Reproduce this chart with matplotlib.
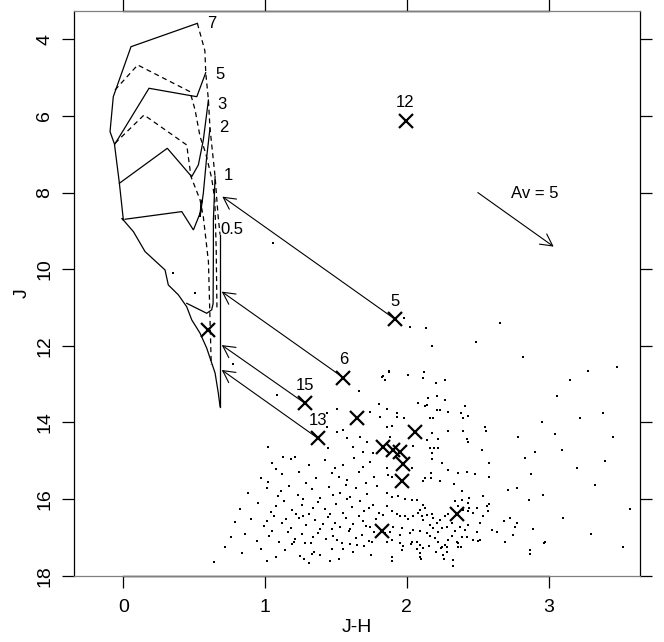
import matplotlib
matplotlib.use("Agg")
import matplotlib.pyplot as plt

plt.rcParams['font.family'] = ['Liberation Sans', 'DejaVu Sans']

# ---------------- data ----------------
x_ticks = [0, 1, 2, 3]
y_ticks = [4, 6, 8, 10, 12, 14, 16, 18]
x_lim = (-0.346, 3.646)
y_lim = (18.015, 3.254)

# labelled sources
lab_ids = ["12", "5", "6", "15", "13"]
lab_jh = [1.99, 1.916, 1.551, 1.281, 1.371]
lab_j = [6.13, 11.305, 12.83, 13.50, 14.41]

# other crosses
oth_jh = [1.646, 2.057, 0.599, 1.834, 1.904, 1.951, 1.970, 1.963, 2.351, 1.822]
oth_j = [13.89, 14.26, 11.58, 14.645, 14.715, 14.76, 15.08, 15.54, 16.39, 16.82]

# dereddening arrows: start (source) -> end (head)
arr_src = ["5", "6", "15", "13"]
arr_end_jh = [0.698, 0.694, 0.694, 0.694]
arr_end_j = [8.106, 10.585, 11.98, 12.63]

# extinction vector
av_start = (2.5, 8.0)
av_end = (3.035, 9.41)
av_text = "Av = 5"

# model curves (J-H, J): solid tracks, dashed isochrones / birthline
curve_solid = [
    ([0.522, 0.054, -0.071, -0.094, -0.063, -0.028, 0.0],
     [3.583, 4.193, 5.498, 6.41, 6.73, 7.757, 8.714]),
    ([0.581, 0.518, 0.181, -0.059],
     [4.871, 5.498, 5.278, 6.73]),
    ([0.6, 0.564, 0.529, 0.482, 0.31, -0.028],
     [5.584, 6.627, 7.279, 7.585, 6.844, 7.757]),
    ([0.611, 0.588, 0.564, 0.541, 0.553, 0.541, 0.494, 0.412, 0.012],
     [6.322, 7.063, 8.018, 8.63, 8.19, 8.54, 8.975, 8.497, 8.696]),
    ([0.647, 0.635, 0.635, 0.633, 0.623, 0.588, 0.447],
     [7.585, 8.714, 9.5, 10.9, 11.06, 11.15, 10.89]),
    ([0.682, 0.682, 0.682],
     [9.1, 10.54, 13.585]),
    ([0.0, -0.011, 0.071, 0.153, 0.294, 0.317, 0.388, 0.447, 0.482, 0.541, 0.588, 0.647, 0.67, 0.682],
     [8.714, 8.67, 9.02, 9.54, 10.02, 10.41, 10.67, 10.98, 11.32, 11.67, 12.06, 12.71, 13.24, 13.585]),
]
curve_dashed = [
    ([0.522, 0.575, 0.581, 0.6, 0.611, 0.647, 0.668, 0.682],
     [3.583, 4.3, 4.871, 5.584, 6.322, 7.585, 8.6, 9.1]),
    ([-0.059, 0.101, 0.47, 0.506, 0.541, 0.581, 0.623, 0.645, 0.655, 0.66],
     [5.323, 4.67, 5.367, 5.845, 6.541, 6.975, 7.627, 8.19, 9.5, 11.0]),
    ([-0.059, 0.146, 0.447, 0.477, 0.541, 0.564, 0.6, 0.62],
     [6.713, 5.975, 6.758, 7.585, 8.19, 8.63, 9.8, 12.5]),
]
curve_labels = ["7", "5", "3", "2", "1", "0.5"]
curve_lab_jh = [0.623, 0.682, 0.698, 0.705, 0.74, 0.764]
curve_lab_j = [3.58, 4.93, 5.69, 6.31, 7.56, 8.975]

# field stars (small dots), listed as (J-H, J) pairs
dots = [
    (1.873, 12.654), (1.829, 12.80), (1.845, 12.89), (2.01, 12.76), (2.111, 12.83), (2.205, 12.96),
    (2.268, 12.89), (2.076, 13.50), (2.151, 13.37), (2.21, 13.31), (2.268, 13.41), (2.127, 13.58),
    (2.233, 13.67), (2.292, 13.73), (2.409, 13.57), (2.381, 13.76), (2.433, 13.83), (2.398, 13.89),
    (1.862, 13.65), (2.163, 13.89), (2.181, 13.89), (1.928, 13.86), (1.857, 14.11), (1.892, 14.09),
    (2.139, 14.45), (2.221, 14.44), (2.292, 14.21), (2.393, 14.22), (2.55, 14.12), (2.558, 14.21),
    (2.421, 14.44), (2.428, 14.5), (2.786, 14.39), (3.044, 14.30), (3.096, 14.71), (2.903, 14.76),
    (2.527, 14.73), (2.163, 14.67), (2.191, 14.67), (2.221, 14.67), (2.174, 14.8), (2.045, 14.61),
    (1.88, 14.38), (2.833, 14.93), (2.579, 15.05), (2.174, 14.95), (2.245, 15.06), (2.292, 15.24),
    (2.362, 15.31), (2.421, 15.29), (2.48, 15.34), (2.581, 15.43), (2.875, 15.34), (2.167, 15.32),
    (2.127, 15.45), (2.17, 15.45), (2.233, 15.54), (2.116, 15.54), (2.038, 15.19), (1.857, 15.19),
    (1.869, 15.37), (1.892, 15.41), (2.332, 15.6), (2.386, 15.78), (2.44, 15.96), (2.539, 15.93),
    (2.581, 16.12), (2.715, 15.76), (2.774, 15.7), (2.863, 16.02), (2.962, 15.89),
    (1.058, 9.307), (0.506, 10.61), (0.776, 12.48), (1.082, 13.28), (1.434, 13.76), (1.505, 13.65),
    (1.822, 12.82), (1.876, 12.67), (2.01, 12.76), (2.123, 12.67), (2.179, 12.0), (2.135, 11.54),
    (2.022, 11.50), (1.98, 11.28), (1.66, 13.19), (1.805, 13.51), (1.74, 13.72), (1.81, 13.85),
    (1.932, 13.76), (1.98, 13.89), (2.144, 13.54), (2.21, 13.67), (2.175, 14.28), (1.023, 14.63),
    (1.128, 14.89), (1.211, 14.89), (1.434, 14.11), (1.505, 14.24), (1.551, 14.19), (1.575, 14.41),
    (1.669, 14.37), (1.716, 14.5), (1.622, 14.63), (1.693, 14.76), (1.763, 14.8), (1.446, 14.67),
    (1.207, 17.12), (1.282, 17.15), (1.246, 17.48), (1.276, 17.56), (1.327, 17.42), (1.348, 17.37),
    (1.455, 17.62), (1.47, 17.31), (1.551, 17.31), (1.599, 17.17), (1.70, 17.23), (1.751, 17.12),
    (1.898, 17.62), (1.969, 17.23), (2.029, 17.17), (2.074, 17.31), (2.089, 17.51), (2.098, 17.56),
    (2.113, 17.28), (2.154, 17.23), (2.203, 17.37), (2.238, 17.28), (2.262, 17.56), (2.283, 17.26),
    (2.328, 17.75), (2.358, 17.15), (2.381, 17.26), (2.501, 17.10), (2.695, 17.12), (2.866, 17.42),
    (2.97, 17.15), (3.523, 17.25),
    # dense cloud right half
    (1.857, 15.83), (1.892, 15.95), (1.939, 15.93), (1.986, 16.0), (2.033, 16.02), (2.073, 16.02),
    (2.116, 16.15), (2.127, 16.22), (2.092, 16.28), (1.857, 16.19), (1.834, 16.41), (1.892, 16.32),
    (1.928, 16.38), (1.951, 16.45), (1.986, 16.44), (2.01, 16.52), (2.045, 16.45), (2.08, 16.37),
    (2.104, 16.45), (2.116, 16.54), (2.139, 16.41), (2.174, 16.38), (2.186, 16.50), (2.21, 16.63),
    (2.233, 16.54), (2.268, 16.45), (2.292, 16.38), (2.245, 16.76), (2.28, 16.72), (2.315, 16.63),
    (2.163, 16.67), (2.186, 16.76), (2.221, 16.85), (2.139, 16.89), (2.092, 16.82), (2.045, 16.80),
    (2.022, 16.89), (1.963, 16.76), (1.904, 16.72), (1.881, 16.85), (1.845, 16.89), (1.951, 16.93),
    (1.892, 17.06), (1.857, 17.11), (2.033, 17.11), (2.069, 17.13), (2.092, 17.19), (2.163, 16.96),
    (2.198, 17.02), (2.221, 17.13), (2.245, 17.24), (2.268, 17.19), (2.292, 17.06), (2.315, 16.96),
    (2.339, 16.82), (2.374, 16.72), (2.409, 16.80), (2.433, 16.67), (2.386, 16.98), (2.421, 16.98),
    (2.355, 17.13), (2.362, 17.24), (2.28, 17.37), (2.257, 17.45), (2.092, 17.41), (1.951, 17.15),
    (1.963, 17.32), (1.892, 17.50), (2.327, 17.60), (2.44, 16.24), (2.468, 16.37), (2.515, 16.63),
    (2.539, 16.45), (2.574, 16.32), (2.562, 16.19), (2.633, 16.85), (2.598, 16.80), (2.515, 17.06),
    (2.492, 16.85), (2.468, 17.06), (2.398, 16.28), (2.428, 16.32), (2.386, 16.02), (2.433, 16.11),
    (2.339, 16.06), (2.362, 16.18), (2.492, 16.24), (2.684, 16.57), (2.727, 16.48), (2.762, 16.72),
    (2.774, 16.63), (2.75, 16.93), (2.691, 17.11), (2.868, 17.34), (2.891, 16.78), (2.974, 17.13),
    (3.22, 13.89),
    # dense cloud left half
    (1.05, 15.05), (1.18, 14.95), (1.31, 15.12), (1.42, 14.98), (1.55, 15.1), (1.63, 14.92),
    (1.74, 15.02), (1.08, 15.22), (1.49, 15.2), (1.69, 15.15),
    (1.12, 15.35), (1.24, 15.28), (1.36, 15.45), (1.47, 15.33), (1.58, 15.5), (1.66, 15.29),
    (1.77, 15.42), (1.02, 15.55), (1.29, 15.58), (1.52, 15.41), (1.71, 15.58), (0.97, 15.45),
    (0.88, 15.85), (1.01, 15.72), (1.09, 15.93), (1.17, 15.66), (1.23, 15.88), (1.33, 15.74),
    (1.39, 15.97), (1.45, 15.68), (1.53, 15.84), (1.6, 15.95), (1.64, 15.71), (1.72, 15.86),
    (1.79, 15.66), (1.27, 15.99), (1.48, 15.9), (1.57, 15.63), (1.11, 15.8),
    (0.82, 16.25), (0.95, 16.1), (1.04, 16.33), (1.13, 16.05), (1.19, 16.28), (1.26, 16.15),
    (1.31, 16.38), (1.37, 16.08), (1.42, 16.25), (1.5, 16.12), (1.55, 16.35), (1.61, 16.2),
    (1.67, 16.05), (1.7, 16.31), (1.76, 16.16), (1.8, 16.36), (1.08, 16.18), (1.34, 16.22),
    (1.46, 16.39), (1.58, 16.01), (1.73, 16.24), (1.22, 16.4),
    (0.79, 16.6), (0.9, 16.52), (0.99, 16.7), (1.06, 16.45), (1.12, 16.62), (1.18, 16.76),
    (1.24, 16.5), (1.29, 16.68), (1.35, 16.55), (1.39, 16.78), (1.44, 16.47), (1.49, 16.63),
    (1.53, 16.72), (1.57, 16.5), (1.62, 16.66), (1.66, 16.43), (1.69, 16.58), (1.74, 16.74),
    (1.78, 16.52), (1.27, 16.44), (1.41, 16.66), (1.6, 16.78), (1.15, 16.53), (1.01, 16.58),
    (1.47, 16.79), (1.71, 16.69),
    (0.76, 17.0), (0.86, 16.9), (0.94, 17.1), (1.03, 16.95), (1.1, 17.12), (1.16, 16.86),
    (1.21, 17.03), (1.26, 16.92), (1.32, 17.14), (1.37, 16.88), (1.43, 17.05), (1.48, 16.97),
    (1.54, 17.15), (1.59, 16.84), (1.64, 17.02), (1.68, 16.93), (1.73, 17.1), (1.77, 16.87),
    (1.34, 16.98), (1.51, 17.06), (1.19, 17.18), (1.65, 17.19), (1.05, 16.82),
    (0.72, 17.25), (0.84, 17.4), (0.97, 17.3), (1.08, 17.5), (1.14, 17.32), (1.39, 17.45),
    (1.52, 17.55), (1.62, 17.38), (1.75, 17.46), (1.01, 17.62), (1.31, 17.68), (0.64, 17.65),
    # sparse outskirts
    (3.28, 12.66), (3.48, 12.56), (3.38, 13.76), (3.45, 14.38), (3.33, 15.63), (3.57, 16.26),
    (2.66, 11.4), (2.49, 11.9), (2.82, 12.3), (3.06, 13.3), (3.15, 12.9), (2.95, 14.0),
    (3.2, 15.2), (3.1, 16.5), (3.3, 16.9), (3.4, 15.0), (0.353, 10.09),
]
dot_jh = [d[0] for d in dots]
dot_j = [d[1] for d in dots]

# ---------------- figure ----------------
fig = plt.figure(figsize=(6.64, 6.42), dpi=100)
ax = fig.add_axes([0.1119, 0.1023, 0.8524, 0.8810])
ax.set_xlim(*x_lim)
ax.set_ylim(*y_lim)

for xs, ys in curve_solid:
    ax.plot(xs, ys, color='black', lw=0.9, solid_joinstyle='miter')
for xs, ys in curve_dashed:
    ax.plot(xs, ys, color='black', lw=0.9, ls=(0, (4, 3)))
for t, x, y in zip(curve_labels, curve_lab_jh, curve_lab_j):
    ax.text(x, y, t, fontsize=12, ha='center', va='center')

ax.scatter(dot_jh, dot_j, s=1.6, marker='s', color='black', linewidths=0)

arrow_kw = dict(arrowstyle='->,head_length=0.85,head_width=0.45', color='black',
                lw=0.8, shrinkA=0, shrinkB=0, mutation_scale=10)
for sid, ex, ey in zip(arr_src, arr_end_jh, arr_end_j):
    i = lab_ids.index(sid)
    ax.annotate('', xy=(ex, ey), xytext=(lab_jh[i], lab_j[i]), arrowprops=arrow_kw)
ax.annotate('', xy=av_end, xytext=av_start, arrowprops=arrow_kw)
ax.text(2.9, 8.03, av_text, fontsize=12, ha='center', va='center')

ax.plot(lab_jh, lab_j, ls='none', marker='x', ms=9.5, mew=1.6, color='black')
ax.plot(oth_jh, oth_j, ls='none', marker='x', ms=9.5, mew=1.6, color='black')
for t, x, y in zip(lab_ids, lab_jh, lab_j):
    ax.text(x, y - 0.47, t, fontsize=12, ha='center', va='center')

# axes styling
ax.set_xticks(x_ticks)
ax.set_yticks(y_ticks)
ax.tick_params(direction='out', length=8.3, width=0.9, labelsize=14,
               top=True, right=True, labeltop=False, labelright=False)
ax.tick_params(axis='x', pad=8)
ax.tick_params(axis='y', pad=7, labelrotation=90)
for lbl in ax.get_yticklabels():
    lbl.set_va('center')
for s in ['top', 'bottom']:
    ax.spines[s].set_color('#808080')
for s in ['left', 'right']:
    ax.spines[s].set_color('black')
for sp in ax.spines.values():
    sp.set_linewidth(0.9)
for yy in y_lim:
    ax.plot([x_ticks[0], x_ticks[-1]], [yy, yy], color='black', lw=1.0, clip_on=False)

ax.set_xlabel('J-H', fontsize=14, labelpad=2)
ax.set_ylabel('J', fontsize=14, labelpad=4)

fig.savefig('out.png', dpi=100)
